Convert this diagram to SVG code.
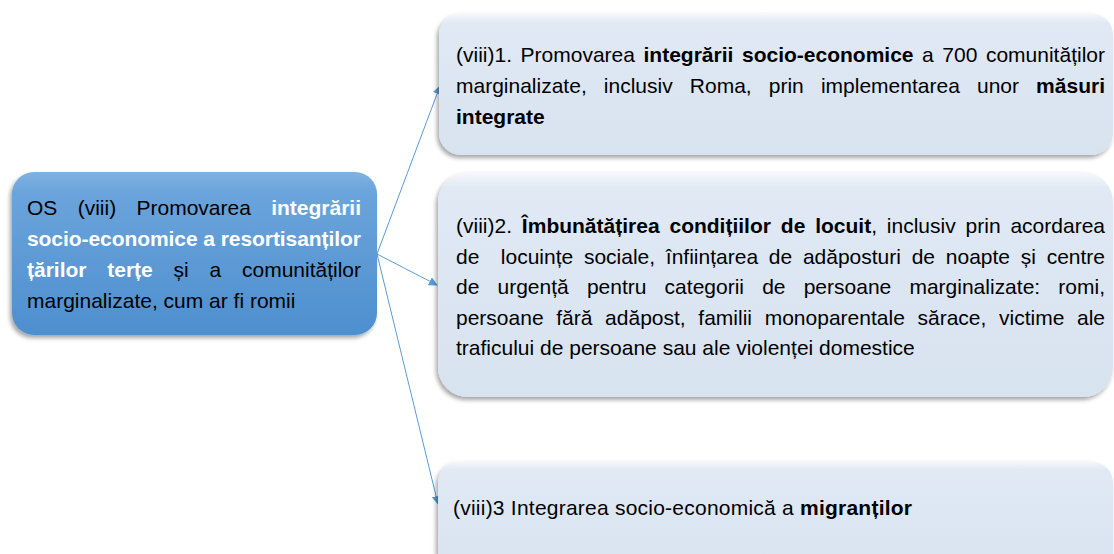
<svg xmlns="http://www.w3.org/2000/svg" width="1114" height="554" viewBox="0 0 1114 554">
<style>
.t{font-family:"Liberation Sans",Arial,sans-serif;font-size:21px;fill:#000}
.b{font-weight:bold}
.w{fill:#fff}
.conn{stroke:#5b9bd5;stroke-width:1;fill:none}
</style>
<defs>
<linearGradient id="gBlue" x1="0" y1="0" x2="0" y2="1">
<stop offset="0" stop-color="#7fb2e2"/>
<stop offset="0.12" stop-color="#6ba4db"/>
<stop offset="1" stop-color="#4e8fcf"/>
</linearGradient>
<linearGradient id="gLight" x1="0" y1="0" x2="0" y2="1">
<stop offset="0" stop-color="#f7f9fc"/>
<stop offset="0.07" stop-color="#e0e9f4"/>
<stop offset="1" stop-color="#d8e3f0"/>
</linearGradient>
<filter id="sh" x="-10%" y="-10%" width="120%" height="130%">
<feDropShadow dx="-2" dy="3" stdDeviation="2" flood-color="#000" flood-opacity="0.35"/>
</filter>
<marker id="ah" viewBox="0 0 10 10" refX="9" refY="5" markerWidth="9" markerHeight="9" markerUnits="userSpaceOnUse" orient="auto">
<path d="M0,0 L10,5 L0,10 z" fill="#5b9bd5"/>
</marker>
</defs>

<g id="connectors">
<line class="conn" x1="377" y1="254" x2="440" y2="86" marker-end="url(#ah)"/>
<line class="conn" x1="377" y1="254" x2="437" y2="285" marker-end="url(#ah)"/>
<line class="conn" x1="377" y1="254" x2="438" y2="504" marker-end="url(#ah)"/>
</g>

<g id="node-os">
<rect x="12" y="172" width="365" height="163" rx="22" fill="url(#gBlue)" filter="url(#sh)"/>
<text class="t" x="27" y="215" textLength="334" lengthAdjust="spacing" word-spacing="14.5">OS (viii) Promovarea <tspan class="b w">integrării</tspan></text>
<text class="t b w" x="27" y="246" textLength="334" lengthAdjust="spacing">socio-economice a resortisanților</text>
<text class="t" x="27" y="277" textLength="334" lengthAdjust="spacing" word-spacing="15"><tspan class="b w">țărilor terțe</tspan> și a comunităților</text>
<text class="t" x="27" y="308">marginalizate, cum ar fi romii</text>
</g>

<g id="node-1">
<rect x="439" y="13" width="674" height="142" rx="22" fill="url(#gLight)" filter="url(#sh)"/>
<text class="t" x="456" y="62" textLength="649" lengthAdjust="spacing" word-spacing="2.7">(viii)1. Promovarea <tspan class="b">integrării socio-economice</tspan> a 700 comunităților</text>
<text class="t" x="456" y="93" textLength="649" lengthAdjust="spacing" word-spacing="11.3">marginalizate, inclusiv Roma, prin implementarea unor <tspan class="b">măsuri</tspan></text>
<text class="t b" x="456" y="124">integrate</text>
</g>

<g id="node-2">
<rect x="438" y="172" width="675" height="225" rx="30" fill="url(#gLight)" filter="url(#sh)"/>
<text class="t" x="456" y="233" textLength="649" lengthAdjust="spacing" word-spacing="4">(viii)2. <tspan class="b">Îmbunătățirea condițiilor de locuit</tspan>, inclusiv prin acordarea</text>
<text class="t" x="456" y="264" textLength="649" lengthAdjust="spacing" word-spacing="4.9" xml:space="preserve">de  locuințe sociale, înființarea de adăposturi de noapte și centre</text>
<text class="t" x="456" y="294" textLength="649" lengthAdjust="spacing" word-spacing="12.3">de urgență pentru categorii de persoane marginalizate: romi,</text>
<text class="t" x="456" y="325" textLength="649" lengthAdjust="spacing" word-spacing="6.8">persoane fără adăpost, familii monoparentale sărace, victime ale</text>
<text class="t" x="456" y="355">traficului de persoane sau ale violenței domestice</text>
</g>

<g id="node-3">
<rect x="438" y="461" width="675" height="130" rx="22" fill="url(#gLight)" filter="url(#sh)"/>
<text class="t" x="453" y="515" textLength="459" lengthAdjust="spacing">(viii)3 Integrarea socio-economică a <tspan class="b">migranților</tspan></text>
</g>
</svg>
